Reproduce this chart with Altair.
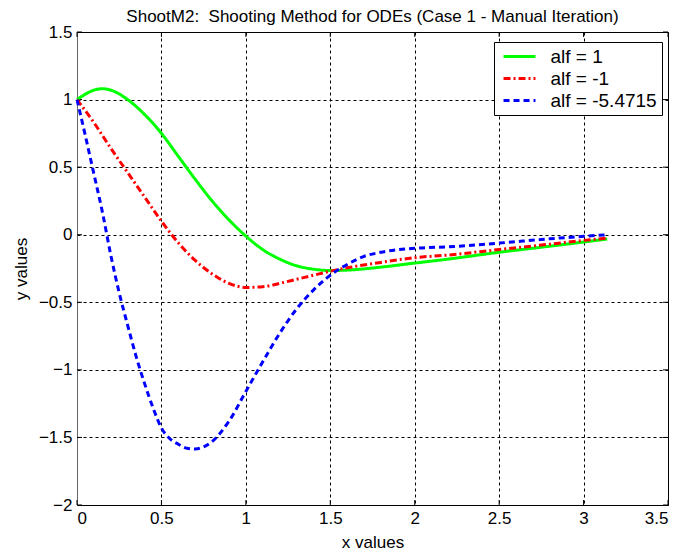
import altair as alt
import pandas as pd

# ---- data ----
x_green = [0, 0.05, 0.1, 0.15, 0.2, 0.3, 0.4, 0.5, 0.6, 0.7, 0.8, 0.9, 1.0, 1.1, 1.2,
           1.3, 1.4, 1.5, 1.6, 1.8, 2.0, 2.2, 2.5, 2.8, 3.0, 3.14]
y_green = [1.0, 1.04, 1.07, 1.08, 1.07, 1.0, 0.89, 0.75, 0.58, 0.41, 0.25, 0.11, -0.01, -0.11, -0.18,
           -0.23, -0.255, -0.265, -0.262, -0.24, -0.21, -0.18, -0.13, -0.085, -0.054, -0.032]

x_red = [0, 0.1, 0.2, 0.3, 0.4, 0.5, 0.6, 0.7, 0.8, 0.9, 1.0, 1.1, 1.2, 1.3, 1.4,
         1.5, 1.6, 1.8, 2.0, 2.2, 2.5, 2.8, 3.0, 3.14]
y_red = [1.0, 0.83, 0.64, 0.46, 0.28, 0.1, -0.06, -0.19, -0.29, -0.36, -0.39, -0.385, -0.36, -0.33, -0.30,
         -0.27, -0.245, -0.205, -0.17, -0.15, -0.11, -0.07, -0.042, -0.025]

x_blue = [0, 0.05, 0.1, 0.15, 0.2, 0.25, 0.3, 0.35, 0.4, 0.45, 0.5, 0.55, 0.6, 0.65, 0.7,
          0.75, 0.8, 0.9, 1.0, 1.1, 1.2, 1.3, 1.4, 1.5, 1.6, 1.7, 1.8, 2.0, 2.2, 2.5, 2.8, 3.0, 3.14]
y_blue = [1.0, 0.73, 0.45, 0.17, -0.15, -0.43, -0.67, -0.9, -1.1, -1.28, -1.43, -1.51, -1.55, -1.58, -1.585,
          -1.57, -1.53, -1.38, -1.16, -0.94, -0.73, -0.55, -0.41, -0.3, -0.22, -0.16, -0.13, -0.10, -0.09, -0.062, -0.03, -0.012, 0.0]

series_names = ["alf = 1", "alf = -1", "alf = -5.4715"]
series_colors = ["#00ff00", "#ff0000", "#0000ff"]
series_dashes = [[1, 0], [7, 3, 2, 3], [6, 4]]

x_ticks = [0, 0.5, 1, 1.5, 2, 2.5, 3, 3.5]
y_ticks = [-2, -1.5, -1, -0.5, 0, 0.5, 1, 1.5]

rows = []
for name, xs, ys in zip(series_names, [x_green, x_red, x_blue], [y_green, y_red, y_blue]):
    for i, (a, b) in enumerate(zip(xs, ys)):
        rows.append({"series": name, "x": a, "y": b, "order": i})
df = pd.DataFrame(rows)

FONT = "Liberation Sans"
W, H = 591, 473
TICK = 5

x_scale = alt.Scale(domain=[0, 3.5], nice=False, zero=False)
y_scale = alt.Scale(domain=[-2, 1.5], nice=False, zero=False)
x_axis = alt.Axis(values=x_ticks, format="~g", title="x values", grid=True, titlePadding=8)
y_axis = alt.Axis(values=y_ticks, format="~g", title="y values", grid=True,
                  titlePadding=8, domainColor="#666666")

lines = alt.Chart(df).mark_line(strokeWidth=3, interpolate="monotone").encode(
    x=alt.X("x:Q", scale=x_scale, axis=x_axis),
    y=alt.Y("y:Q", scale=y_scale, axis=y_axis),
    color=alt.Color("series:N", scale=alt.Scale(domain=series_names, range=series_colors), title=None),
    strokeDash=alt.StrokeDash("series:N", scale=alt.Scale(domain=series_names, range=series_dashes), title=None),
    order="order:Q",
)

# inward tick marks on all four sides (MATLAB style)
xt = pd.DataFrame({"x": x_ticks})
yt = pd.DataFrame({"y": y_ticks})
tick_bottom = alt.Chart(xt).mark_rule(color="#000000", strokeWidth=1).encode(
    x=alt.X("x:Q", scale=x_scale, axis=x_axis), y=alt.value(H), y2=alt.value(H - TICK))
tick_top = alt.Chart(xt).mark_rule(color="#000000", strokeWidth=1).encode(
    x=alt.X("x:Q", scale=x_scale, axis=x_axis), y=alt.value(0), y2=alt.value(TICK))
tick_left = alt.Chart(yt).mark_rule(color="#000000", strokeWidth=1).encode(
    y=alt.Y("y:Q", scale=y_scale, axis=y_axis), x=alt.value(0), x2=alt.value(TICK))
tick_right = alt.Chart(yt).mark_rule(color="#000000", strokeWidth=1).encode(
    y=alt.Y("y:Q", scale=y_scale, axis=y_axis), x=alt.value(W), x2=alt.value(W - TICK))

chart = alt.layer(tick_bottom, tick_top, tick_left, tick_right, lines).properties(
    width=W,
    height=H,
    title=alt.TitleParams("ShootM2:\u00a0 Shooting Method for ODEs (Case 1 - Manual Iteration)",
                          fontSize=17, font=FONT, fontWeight="normal", color="#000000", offset=-3),
    autosize=alt.AutoSizeParams(type="none"),
    padding={"left": 69, "top": 24, "right": 6, "bottom": 47},
).configure_view(
    stroke="#000000", strokeWidth=1, fill="white"
).configure_axis(
    labelFont=FONT, labelFontSize=17, labelColor="#000000",
    titleFont=FONT, titleFontSize=17, titleColor="#000000", titleFontWeight="normal",
    gridColor="#000000", gridDash=[3, 3], gridOpacity=1, gridWidth=1,
    domainColor="#000000", domainWidth=1, ticks=False, labelPadding=5,
).configure_legend(
    orient="none", legendX=417, legendY=10,
    fillColor="white", strokeColor="#000000", padding=4.5,
    labelFont=FONT, labelFontSize=19, labelColor="#000000",
    symbolType="M-1.88,0H1.88", symbolSize=289, symbolStrokeWidth=3,
    symbolOffset=11, labelOffset=21, rowPadding=2,
)

chart.save("out.html", embed_options={"renderer": "svg", "actions": False})
